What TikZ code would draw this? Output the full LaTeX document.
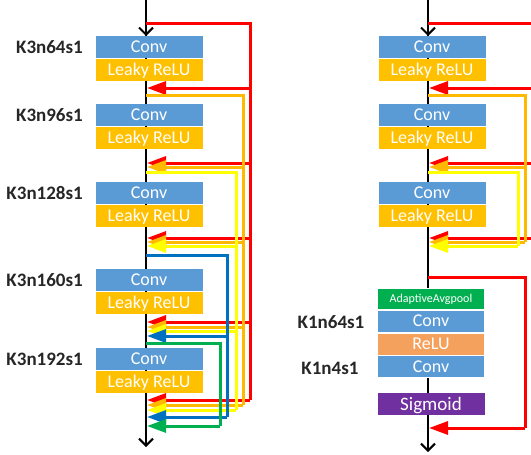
\documentclass[tikz,border=0pt]{standalone}
\usepackage{fontspec}
\setmainfont{Carlito}
\usetikzlibrary{arrows.meta}
\definecolor{convblue}{HTML}{5B9BD5}
\definecolor{boxgold}{HTML}{FFC000}
\definecolor{avggreen}{HTML}{00B050}
\definecolor{reluorange}{HTML}{F4A15D}
\definecolor{sigpurple}{HTML}{7030A0}
\definecolor{lred}{HTML}{FF0000}
\definecolor{lorange}{HTML}{FFB900}
\definecolor{lyellow}{HTML}{FFFF00}
\definecolor{lblue}{HTML}{0070C0}
\definecolor{lgreen}{HTML}{00B050}
\definecolor{lbltext}{HTML}{262626}
\tikzset{
  box/.style={anchor=north, minimum width=107pt, minimum height=22pt, inner sep=0pt,
    text=white, font=\fontsize{18}{18}\selectfont, text height=11.5pt, text depth=0pt},
  sepbox/.style={box, draw=white, line width=0.8pt},
  convbox/.style={box, fill=convblue},
  lrelubox/.style={box, fill=boxgold},
  avgbox/.style={sepbox, fill=avggreen, minimum height=21pt, font=\fontsize{12}{12}\selectfont, text height=7.7pt},
  convsep/.style={sepbox, fill=convblue},
  relubox/.style={sepbox, fill=reluorange},
  sigbox/.style={box, fill=sigpurple, font=\fontsize{19}{19}\selectfont, text height=12pt},
  lbl/.style={text=lbltext, inner sep=0pt, font=\bfseries\fontsize{19}{19}\selectfont, text height=12.2pt, text depth=0pt},
  mainline/.style={line width=2.5pt, black},
  mainarrow/.style={line width=2pt, black, -{Straight Barb[length=7pt,width=14pt]}},
  skipline/.style={line width=3pt},
  skiparrow/.style={line width=3pt, -{Triangle[length=19pt,width=13pt]}},
}
\begin{document}
\begin{tikzpicture}[x=1pt,y=-1pt]
\path[use as bounding box] (0,0) rectangle (531,455);
\clip (0,0) rectangle (531,455);

% ---------------- left column ----------------
\coordinate (Ltop) at (146,0);
\coordinate (Lbot) at (146,447);
\draw[mainline] (Ltop) -- (146,438);
\draw[mainarrow] (Ltop) -- (146,36);
\draw[mainarrow] (146,400) -- (Lbot);

\node[convbox]  (L1c) at (149,36) {Conv};
\node[lrelubox] (L1r) at (L1c.south) {Leaky ReLU};
\node[convbox]  (L2c) at (149,104) {Conv};
\node[lrelubox] (L2r) at (L2c.south) {Leaky ReLU};
\node[convbox]  (L3c) at (149,182) {Conv};
\node[lrelubox] (L3r) at (L3c.south) {Leaky ReLU};
\node[convbox]  (L4c) at (149,269) {Conv};
\node[lrelubox] (L4r) at (L4c.south) {Leaky ReLU};
\node[convbox]  (L5c) at (149,348) {Conv};
\node[lrelubox] (L5r) at (L5c.south) {Leaky ReLU};

\node[lbl, anchor=east] (K1) at (83,47)  {K3n64s1};
\node[lbl, anchor=east] (K2) at (83,115) {K3n96s1};
\node[lbl, anchor=east] (K3) at (83,193) {K3n128s1};
\node[lbl, anchor=east] (K4) at (83,280) {K3n160s1};
\node[lbl, anchor=east] (K5) at (83,359) {K3n192s1};

\coordinate (LRx) at (250,0);
\coordinate (LOx) at (243,0);
\coordinate (LYx) at (236,0);
\coordinate (LBx) at (227,0);
\coordinate (LGx) at (220,0);

\coordinate (Lr0) at (146,23);
\coordinate (Lr1) at (147,88);
\coordinate (Lr2) at (147,163);
\coordinate (Lr3) at (147,238);
\coordinate (Lr4) at (147,322);
\coordinate (Lr5) at (147,400);
\coordinate (Lo0) at (146,95);
\coordinate (Lo1) at (147,167);
\coordinate (Lo2) at (147,242);
\coordinate (Lo3) at (147,327);
\coordinate (Lo4) at (147,405);
\coordinate (Ly0) at (146,172);
\coordinate (Ly1) at (147,246);
\coordinate (Ly2) at (147,331);
\coordinate (Ly3) at (147,410);
\coordinate (Lb0) at (146,255);
\coordinate (Lb1) at (147,336);
\coordinate (Lb2) at (147,417);
\coordinate (Lg0) at (146,343);
\coordinate (Lg1) at (147,426);

\draw[skipline, lred] (Lr0) -| (LRx |- Lr5);
\foreach \t in {Lr1,Lr2,Lr3,Lr4,Lr5} \draw[skiparrow, lred] (LRx |- \t) -- (\t);
\draw[skipline, lorange] (Lo0) -| (LOx |- Lo4);
\foreach \t in {Lo1,Lo2,Lo3,Lo4} \draw[skiparrow, lorange] (LOx |- \t) -- (\t);
\draw[skipline, lyellow] (Ly0) -| (LYx |- Ly3);
\foreach \t in {Ly1,Ly2,Ly3} \draw[skiparrow, lyellow] (LYx |- \t) -- (\t);
\draw[skipline, lblue] (Lb0) -| (LBx |- Lb2);
\foreach \t in {Lb1,Lb2} \draw[skiparrow, lblue] (LBx |- \t) -- (\t);
\draw[skipline, lgreen] (Lg0) -| (LGx |- Lg1);
\draw[skiparrow, lgreen] (LGx |- Lg1) -- (Lg1);

% ---------------- right column ----------------
\coordinate (Rtop) at (428,0);
\coordinate (Rbot) at (428,452);
\draw[mainline] (Rtop) -- (428,443);
\draw[mainarrow] (Rtop) -- (428,36);
\draw[mainarrow] (428,420) -- (Rbot);

\node[convbox]  (R1c) at (432,36) {Conv};
\node[lrelubox] (R1r) at (R1c.south) {Leaky ReLU};
\node[convbox]  (R2c) at (432,104) {Conv};
\node[lrelubox] (R2r) at (R2c.south) {Leaky ReLU};
\node[convbox]  (R3c) at (432,182) {Conv};
\node[lrelubox] (R3r) at (R3c.south) {Leaky ReLU};
\node[avgbox]   (Ravg) at (431,288) {AdaptiveAvgpool};
\node[convsep]  (Rc1) at (Ravg.south) {Conv};
\node[relubox]  (Rrelu) at (Rc1.south) {ReLU};
\node[convsep]  (Rc2) at (Rrelu.south) {Conv};
\node[sigbox]   (Rsig) at (431,393) {Sigmoid};

\node[lbl] (K6) at (331,322) {K1n64s1};
\node[lbl] (K7) at (330,368) {K1n4s1};

\coordinate (RRx) at (545,0);
\coordinate (ROx) at (525,0);
\coordinate (RYx) at (518,0);
\coordinate (RSx) at (525,0);

\coordinate (Rr0) at (428,23);
\coordinate (Rr1) at (429,88);
\coordinate (Rr2) at (429,163);
\coordinate (Rr3) at (429,238);
\coordinate (Ro0) at (428,95);
\coordinate (Ro1) at (429,167);
\coordinate (Ro2) at (429,242);
\coordinate (Ry0) at (428,172);
\coordinate (Ry1) at (429,246);
\coordinate (Rs0) at (428,277);
\coordinate (Rs1) at (429,428);

\draw[skipline, lred] (Rr0) -| (RRx |- Rr3);
\foreach \t in {Rr1,Rr2,Rr3} \draw[skiparrow, lred] (RRx |- \t) -- (\t);
\draw[skipline, lorange] (Ro0) -| (ROx |- Ro2);
\foreach \t in {Ro1,Ro2} \draw[skiparrow, lorange] (ROx |- \t) -- (\t);
\draw[skipline, lyellow] (Ry0) -| (RYx |- Ry1);
\draw[skiparrow, lyellow] (RYx |- Ry1) -- (Ry1);
\draw[skipline, lred] (Rs0) -| (RSx |- Rs1);
\draw[skiparrow, lred] (RSx |- Rs1) -- (Rs1);
\end{tikzpicture}
\end{document}
